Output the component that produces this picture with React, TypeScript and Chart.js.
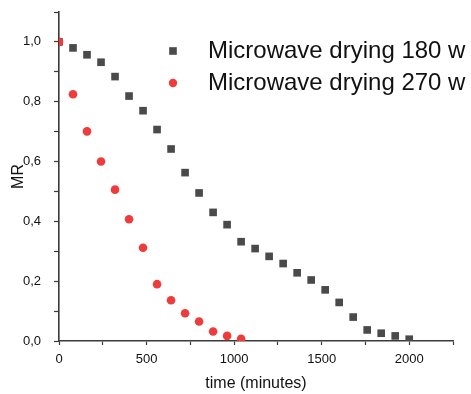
import React, { useEffect, useRef } from "react";
import { Chart, registerables } from "chart.js";

Chart.register(...registerables);

const times180 = [0, 80, 160, 240, 320, 400, 480, 560, 640, 720, 800, 880, 960, 1040, 1120, 1200, 1280, 1360, 1440, 1520, 1600, 1680, 1760, 1840, 1920, 2000];
const mr180 = [1.0, 0.98, 0.957, 0.932, 0.884, 0.819, 0.77, 0.707, 0.642, 0.563, 0.495, 0.43, 0.389, 0.332, 0.309, 0.283, 0.259, 0.228, 0.204, 0.171, 0.129, 0.08, 0.037, 0.026, 0.017, 0.006];
const times270 = [0, 80, 160, 240, 320, 400, 480, 560, 640, 720, 800, 880, 960, 1040];
const mr270 = [1.0, 0.825, 0.701, 0.6, 0.506, 0.407, 0.312, 0.19, 0.136, 0.093, 0.065, 0.032, 0.017, 0.007];
const seriesLabels = ["Microwave drying 180 w", "Microwave drying 270 w"];
const xTickLabels = ["0", "500", "1000", "1500", "2000"];
const yTickLabels = ["0,0", "0,2", "0,4", "0,6", "0,8", "1,0"];

const GREY = "#4a4a4a";
const RED = "#ef3b3b";
const AXIS = "#3a3a3a";
const FONT = "'Liberation Sans', Arial, sans-serif";

const legendPlugin = {
  id: "insideLegend",
  afterDraw(chart: any) {
    const ctx = chart.ctx;
    ctx.save();
    const x0 = 173;
    const tx = 208;
    const rows = [51, 83];
    chart.data.datasets.forEach((ds: any, i: number) => {
      const y = rows[i];
      ctx.fillStyle = ds.backgroundColor;
      if (ds.pointStyle === "rect") {
        ctx.fillRect(x0 - 3.8, y - 3.8, 7.6, 7.6);
      } else {
        ctx.beginPath();
        ctx.arc(x0, y, 4.2, 0, Math.PI * 2);
        ctx.fill();
      }
      ctx.fillStyle = "#111";
      ctx.font = `24px ${FONT}`;
      ctx.textBaseline = "middle";
      ctx.textAlign = "left";
      ctx.fillText(ds.label, tx, y);
    });
    ctx.restore();
  },
};

function fmtX(v: number) {
  const s = String(v);
  return xTickLabels.includes(s) ? s : "";
}
function fmtY(v: number) {
  const s = v.toFixed(1).replace(".", ",");
  return yTickLabels.includes(s) ? s : "";
}

export default function App() {
  const ref = useRef<HTMLCanvasElement>(null);
  useEffect(() => {
    if (!ref.current) return;
    const chart = new Chart(ref.current, {
      type: "scatter",
      data: {
        datasets: [
          {
            label: seriesLabels[0],
            data: times180.map((t, i) => ({ x: t, y: mr180[i] })),
            pointStyle: "rect",
            pointRadius: 5.4,
            backgroundColor: GREY,
            borderColor: GREY,
            borderWidth: 0,
            clip: 0,
            order: 1,
          },
          {
            label: seriesLabels[1],
            data: times270.map((t, i) => ({ x: t, y: mr270[i] })),
            pointStyle: "circle",
            pointRadius: 4.3,
            backgroundColor: RED,
            borderColor: RED,
            borderWidth: 0,
            clip: 0,
            order: 0,
          },
        ],
      },
      options: {
        animation: false,
        responsive: false,
        maintainAspectRatio: false,
        layout: { padding: { top: 12, right: 18, left: 0, bottom: 0 } },
        plugins: {
          legend: { display: false },
          tooltip: { enabled: false },
        },
        scales: {
          x: {
            type: "linear",
            min: 0,
            max: 2250,
            afterFit(scale: any) {
              scale.height = 53;
              scale.paddingLeft = 0;
              scale.paddingRight = 0;
            },
            border: { display: true, color: AXIS, width: 1.6 },
            grid: { drawOnChartArea: false, drawTicks: true, tickLength: 4, tickColor: AXIS, tickWidth: 1.2 },
            ticks: {
              stepSize: 250,
              autoSkip: false,
              maxRotation: 0,
              padding: 7,
              color: "#111",
              font: { family: FONT, size: 13 },
              callback: (v: any) => fmtX(Number(v)),
            },
            title: {
              display: true,
              text: "time (minutes)",
              color: "#111",
              font: { family: FONT, size: 16 },
              padding: { top: 2, bottom: 1 },
            },
          },
          y: {
            type: "linear",
            min: 0,
            max: 1.1,
            afterFit(scale: any) {
              scale.width = 59;
              scale.paddingTop = 0;
              scale.paddingBottom = 0;
            },
            border: { display: true, color: AXIS, width: 1.6 },
            grid: { drawOnChartArea: false, drawTicks: true, tickLength: 5, tickColor: AXIS, tickWidth: 1.2 },
            ticks: {
              stepSize: 0.1,
              autoSkip: false,
              padding: 13,
              color: "#111",
              font: { family: FONT, size: 13 },
              callback: (v: any) => fmtY(Number(v)),
            },
            title: {
              display: true,
              text: "MR",
              color: "#111",
              font: { family: FONT, size: 16 },
              padding: { top: 9, bottom: 0 },
            },
          },
        },
      },
      plugins: [legendPlugin],
    } as any);
    return () => chart.destroy();
  }, []);
  return (
    <div style={{ position: "fixed", left: 0, top: 0, width: 471, height: 394, background: "#fff" }}>
      <canvas ref={ref} width={471} height={394} style={{ width: 471, height: 394 }} />
    </div>
  );
}
